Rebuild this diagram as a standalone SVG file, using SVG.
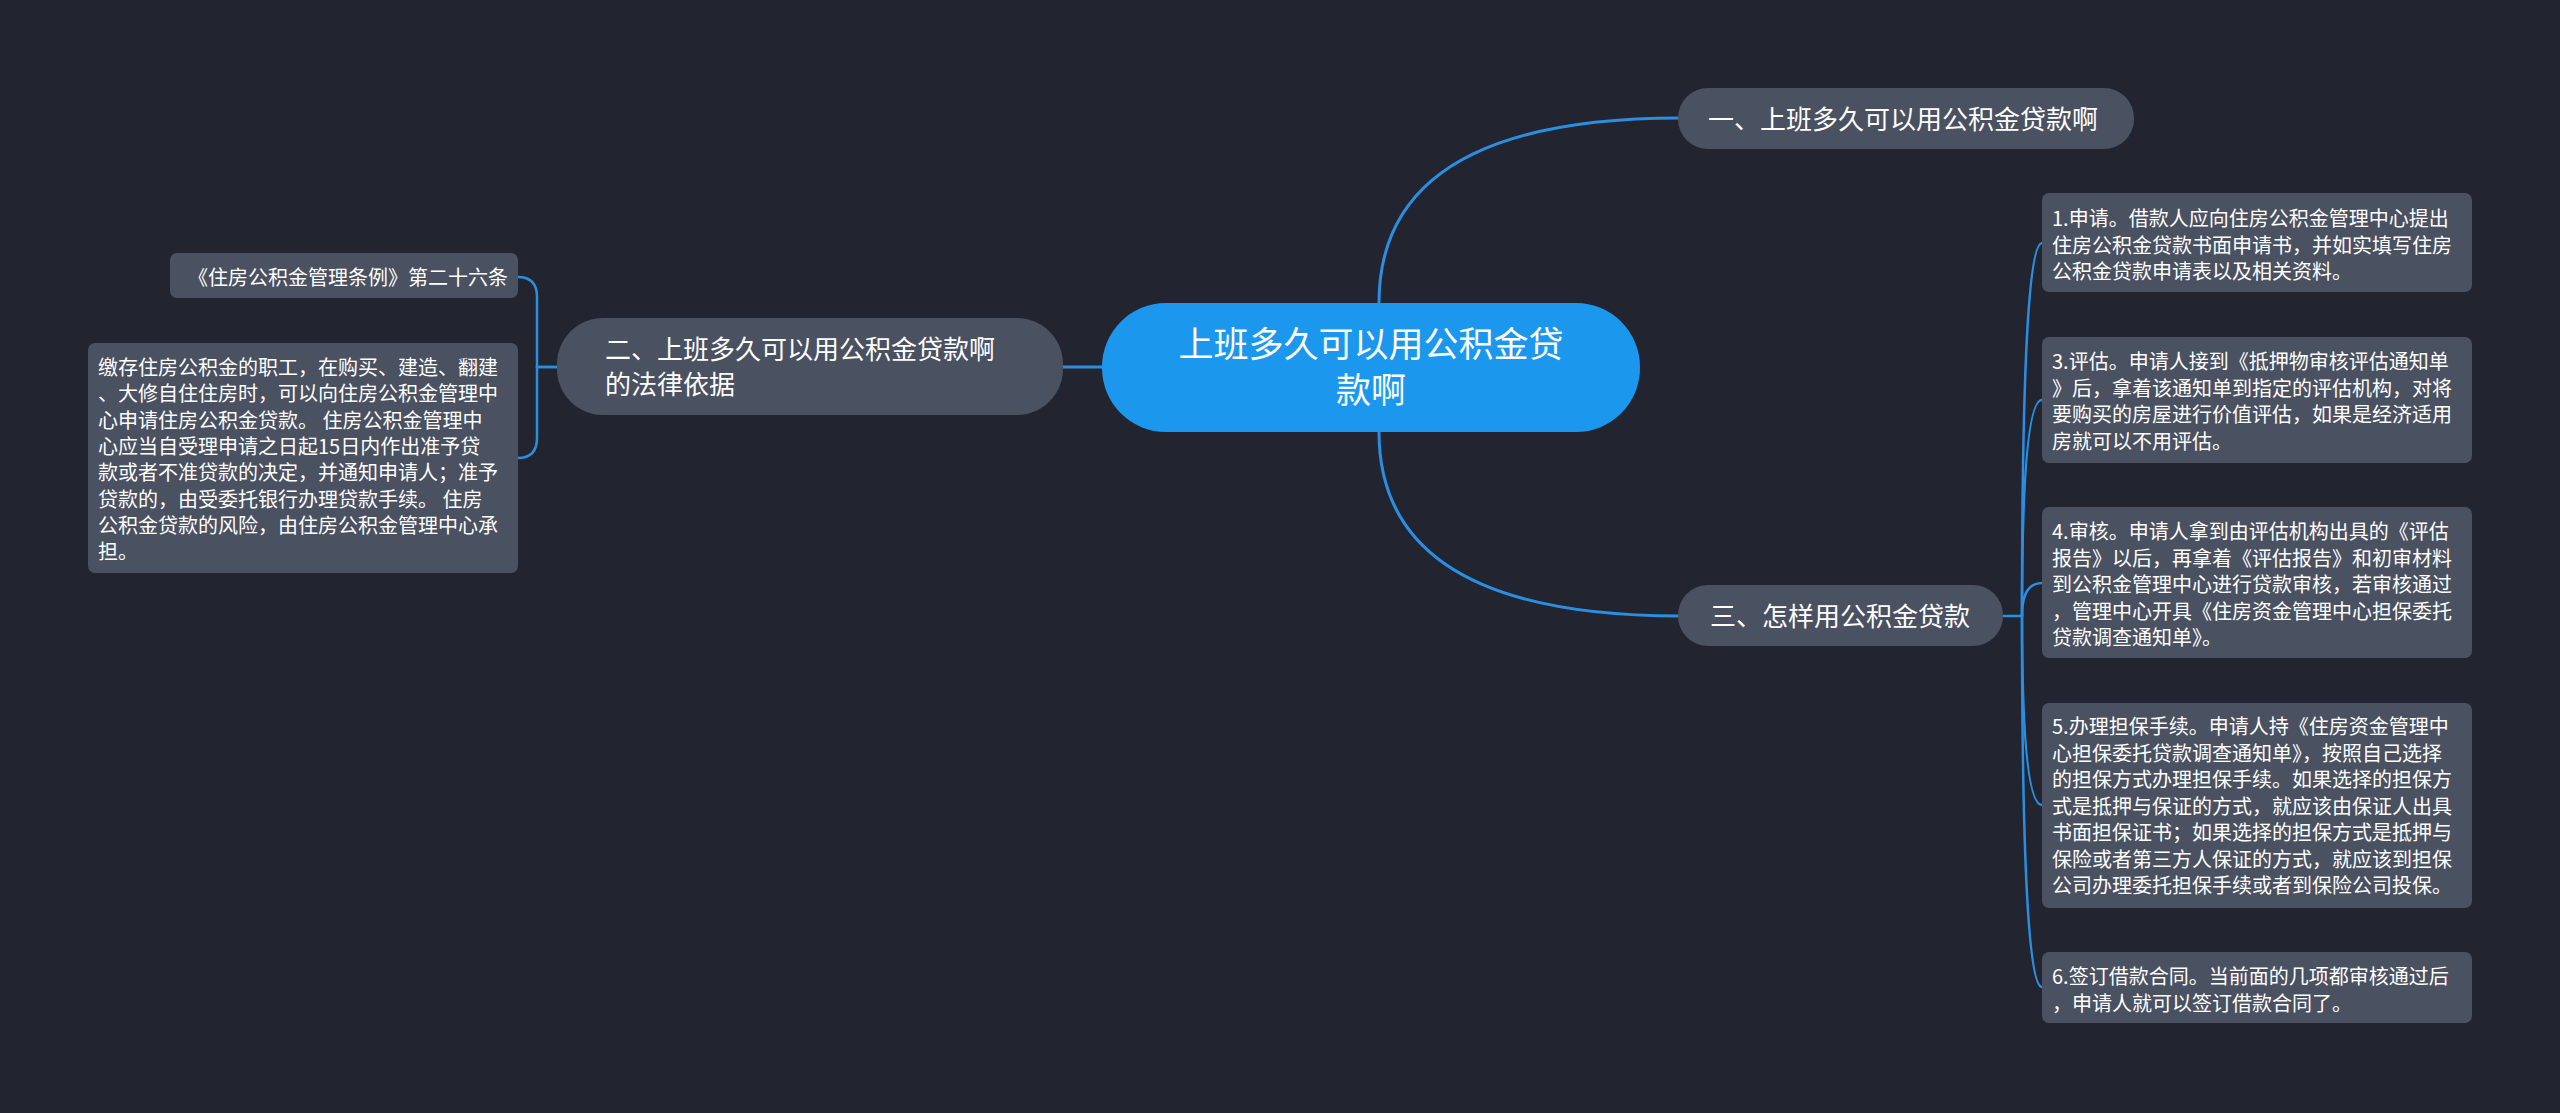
<svg xmlns="http://www.w3.org/2000/svg" width="2560" height="1113" viewBox="0 0 2560 1113">
<style>
.bg{fill:#22252f}
.conn{fill:none;stroke:#2a8fe3;stroke-width:3;stroke-linecap:round}
.conn2{fill:none;stroke:#2a8fe3;stroke-width:2.5;stroke-linecap:round}
.root{fill:#1b98ee}
.n1{fill:#4a5161}
.n2{fill:#4a5161}
text{font-family:"Noto Sans CJK SC","Noto Sans",sans-serif;fill:#ffffff}
.t0{font-size:35px}
.t1{font-size:26px}
.t2{font-size:20px}
</style>
<rect class="bg" x="0" y="0" width="2560" height="1113"/>
<g id="connectors">
<path class="conn" d="M1379,303 Q1379,118 1680,118"/>
<path class="conn" d="M1379,432 Q1379,616 1680,616"/>
<path class="conn" d="M1063,367 L1104,367"/>
<path class="conn2" d="M557,367 L537,367 L537,297 Q537,277 518,277"/>
<path class="conn2" d="M557,367 L537,367 L537,438 Q537,458 518,458"/>
<path class="conn2" d="M2003,616 L2022,616"/>
<path class="conn2" d="M2022,616 Q2022,243 2042,243"/>
<path class="conn2" d="M2022,616 Q2022,400 2042,400"/>
<path class="conn2" d="M2022,616 Q2022,583 2042,583"/>
<path class="conn2" d="M2022,616 Q2022,805 2042,805"/>
<path class="conn2" d="M2022,616 Q2022,987 2042,987"/>
</g>
<g id="root">
<rect class="root" x="1102" y="303" width="538" height="129" rx="64"/>
<text class="t0" x="1371" y="357" text-anchor="middle">上班多久可以用公积金贷</text>
<text class="t0" x="1371" y="403" text-anchor="middle">款啊</text>
</g>
<g id="n-one">
<rect class="n1" x="1678" y="88" width="456" height="61" rx="30"/>
<text class="t1" x="1708" y="129">一、上班多久可以用公积金贷款啊</text>
</g>
<g id="n-two">
<rect class="n1" x="557" y="318" width="506" height="97" rx="46"/>
<text class="t1" x="605" y="359">二、上班多久可以用公积金贷款啊</text>
<text class="t1" x="605" y="394">的法律依据</text>
</g>
<g id="n-three">
<rect class="n1" x="1678" y="585" width="325" height="61" rx="30"/>
<text class="t1" x="1710" y="626">三、怎样用公积金贷款</text>
</g>
<g id="n-law">
<rect class="n2" x="170" y="253" width="348" height="45" rx="7"/>
<text class="t2" x="508" y="284.5" text-anchor="end">《住房公积金管理条例》第二十六条</text>
</g>
<g id="n-law-text">
<rect class="n2" x="88" y="343" width="430" height="230" rx="7"/>
<text class="t2" x="98" y="375">缴存住房公积金的职工，在购买、建造、翻建</text>
<text class="t2" x="98" y="401.3">、大修自住住房时，可以向住房公积金管理中</text>
<text class="t2" x="98" y="427.6">心申请住房公积金贷款。 住房公积金管理中</text>
<text class="t2" x="98" y="453.9">心应当自受理申请之日起15日内作出准予贷</text>
<text class="t2" x="98" y="480.2">款或者不准贷款的决定，并通知申请人；准予</text>
<text class="t2" x="98" y="506.5">贷款的，由受委托银行办理贷款手续。 住房</text>
<text class="t2" x="98" y="532.8">公积金贷款的风险，由住房公积金管理中心承</text>
<text class="t2" x="98" y="559">担。</text>
</g>
<g id="n-step1">
<rect class="n2" x="2042" y="193" width="430" height="99" rx="7"/>
<text class="t2" x="2052" y="226">1.申请。借款人应向住房公积金管理中心提出</text>
<text class="t2" x="2052" y="252.5">住房公积金贷款书面申请书，并如实填写住房</text>
<text class="t2" x="2052" y="279">公积金贷款申请表以及相关资料。</text>
</g>
<g id="n-step3">
<rect class="n2" x="2042" y="337" width="430" height="126" rx="7"/>
<text class="t2" x="2052" y="369">3.评估。申请人接到《抵押物审核评估通知单</text>
<text class="t2" x="2052" y="395.7">》后，拿着该通知单到指定的评估机构，对将</text>
<text class="t2" x="2052" y="422.4">要购买的房屋进行价值评估，如果是经济适用</text>
<text class="t2" x="2052" y="449">房就可以不用评估。</text>
</g>
<g id="n-step4">
<rect class="n2" x="2042" y="507" width="430" height="151" rx="7"/>
<text class="t2" x="2052" y="539">4.审核。申请人拿到由评估机构出具的《评估</text>
<text class="t2" x="2052" y="565.5">报告》以后，再拿着《评估报告》和初审材料</text>
<text class="t2" x="2052" y="592">到公积金管理中心进行贷款审核，若审核通过</text>
<text class="t2" x="2052" y="618.5">，管理中心开具《住房资金管理中心担保委托</text>
<text class="t2" x="2052" y="645">贷款调查通知单》。</text>
</g>
<g id="n-step5">
<rect class="n2" x="2042" y="703" width="430" height="205" rx="7"/>
<text class="t2" x="2052" y="734">5.办理担保手续。申请人持《住房资金管理中</text>
<text class="t2" x="2052" y="760.5">心担保委托贷款调查通知单》，按照自己选择</text>
<text class="t2" x="2052" y="787">的担保方式办理担保手续。如果选择的担保方</text>
<text class="t2" x="2052" y="813.5">式是抵押与保证的方式，就应该由保证人出具</text>
<text class="t2" x="2052" y="840">书面担保证书；如果选择的担保方式是抵押与</text>
<text class="t2" x="2052" y="866.5">保险或者第三方人保证的方式，就应该到担保</text>
<text class="t2" x="2052" y="893">公司办理委托担保手续或者到保险公司投保。</text>
</g>
<g id="n-step6">
<rect class="n2" x="2042" y="952" width="430" height="71" rx="7"/>
<text class="t2" x="2052" y="984">6.签订借款合同。当前面的几项都审核通过后</text>
<text class="t2" x="2052" y="1010.5">，申请人就可以签订借款合同了。</text>
</g>
</svg>
